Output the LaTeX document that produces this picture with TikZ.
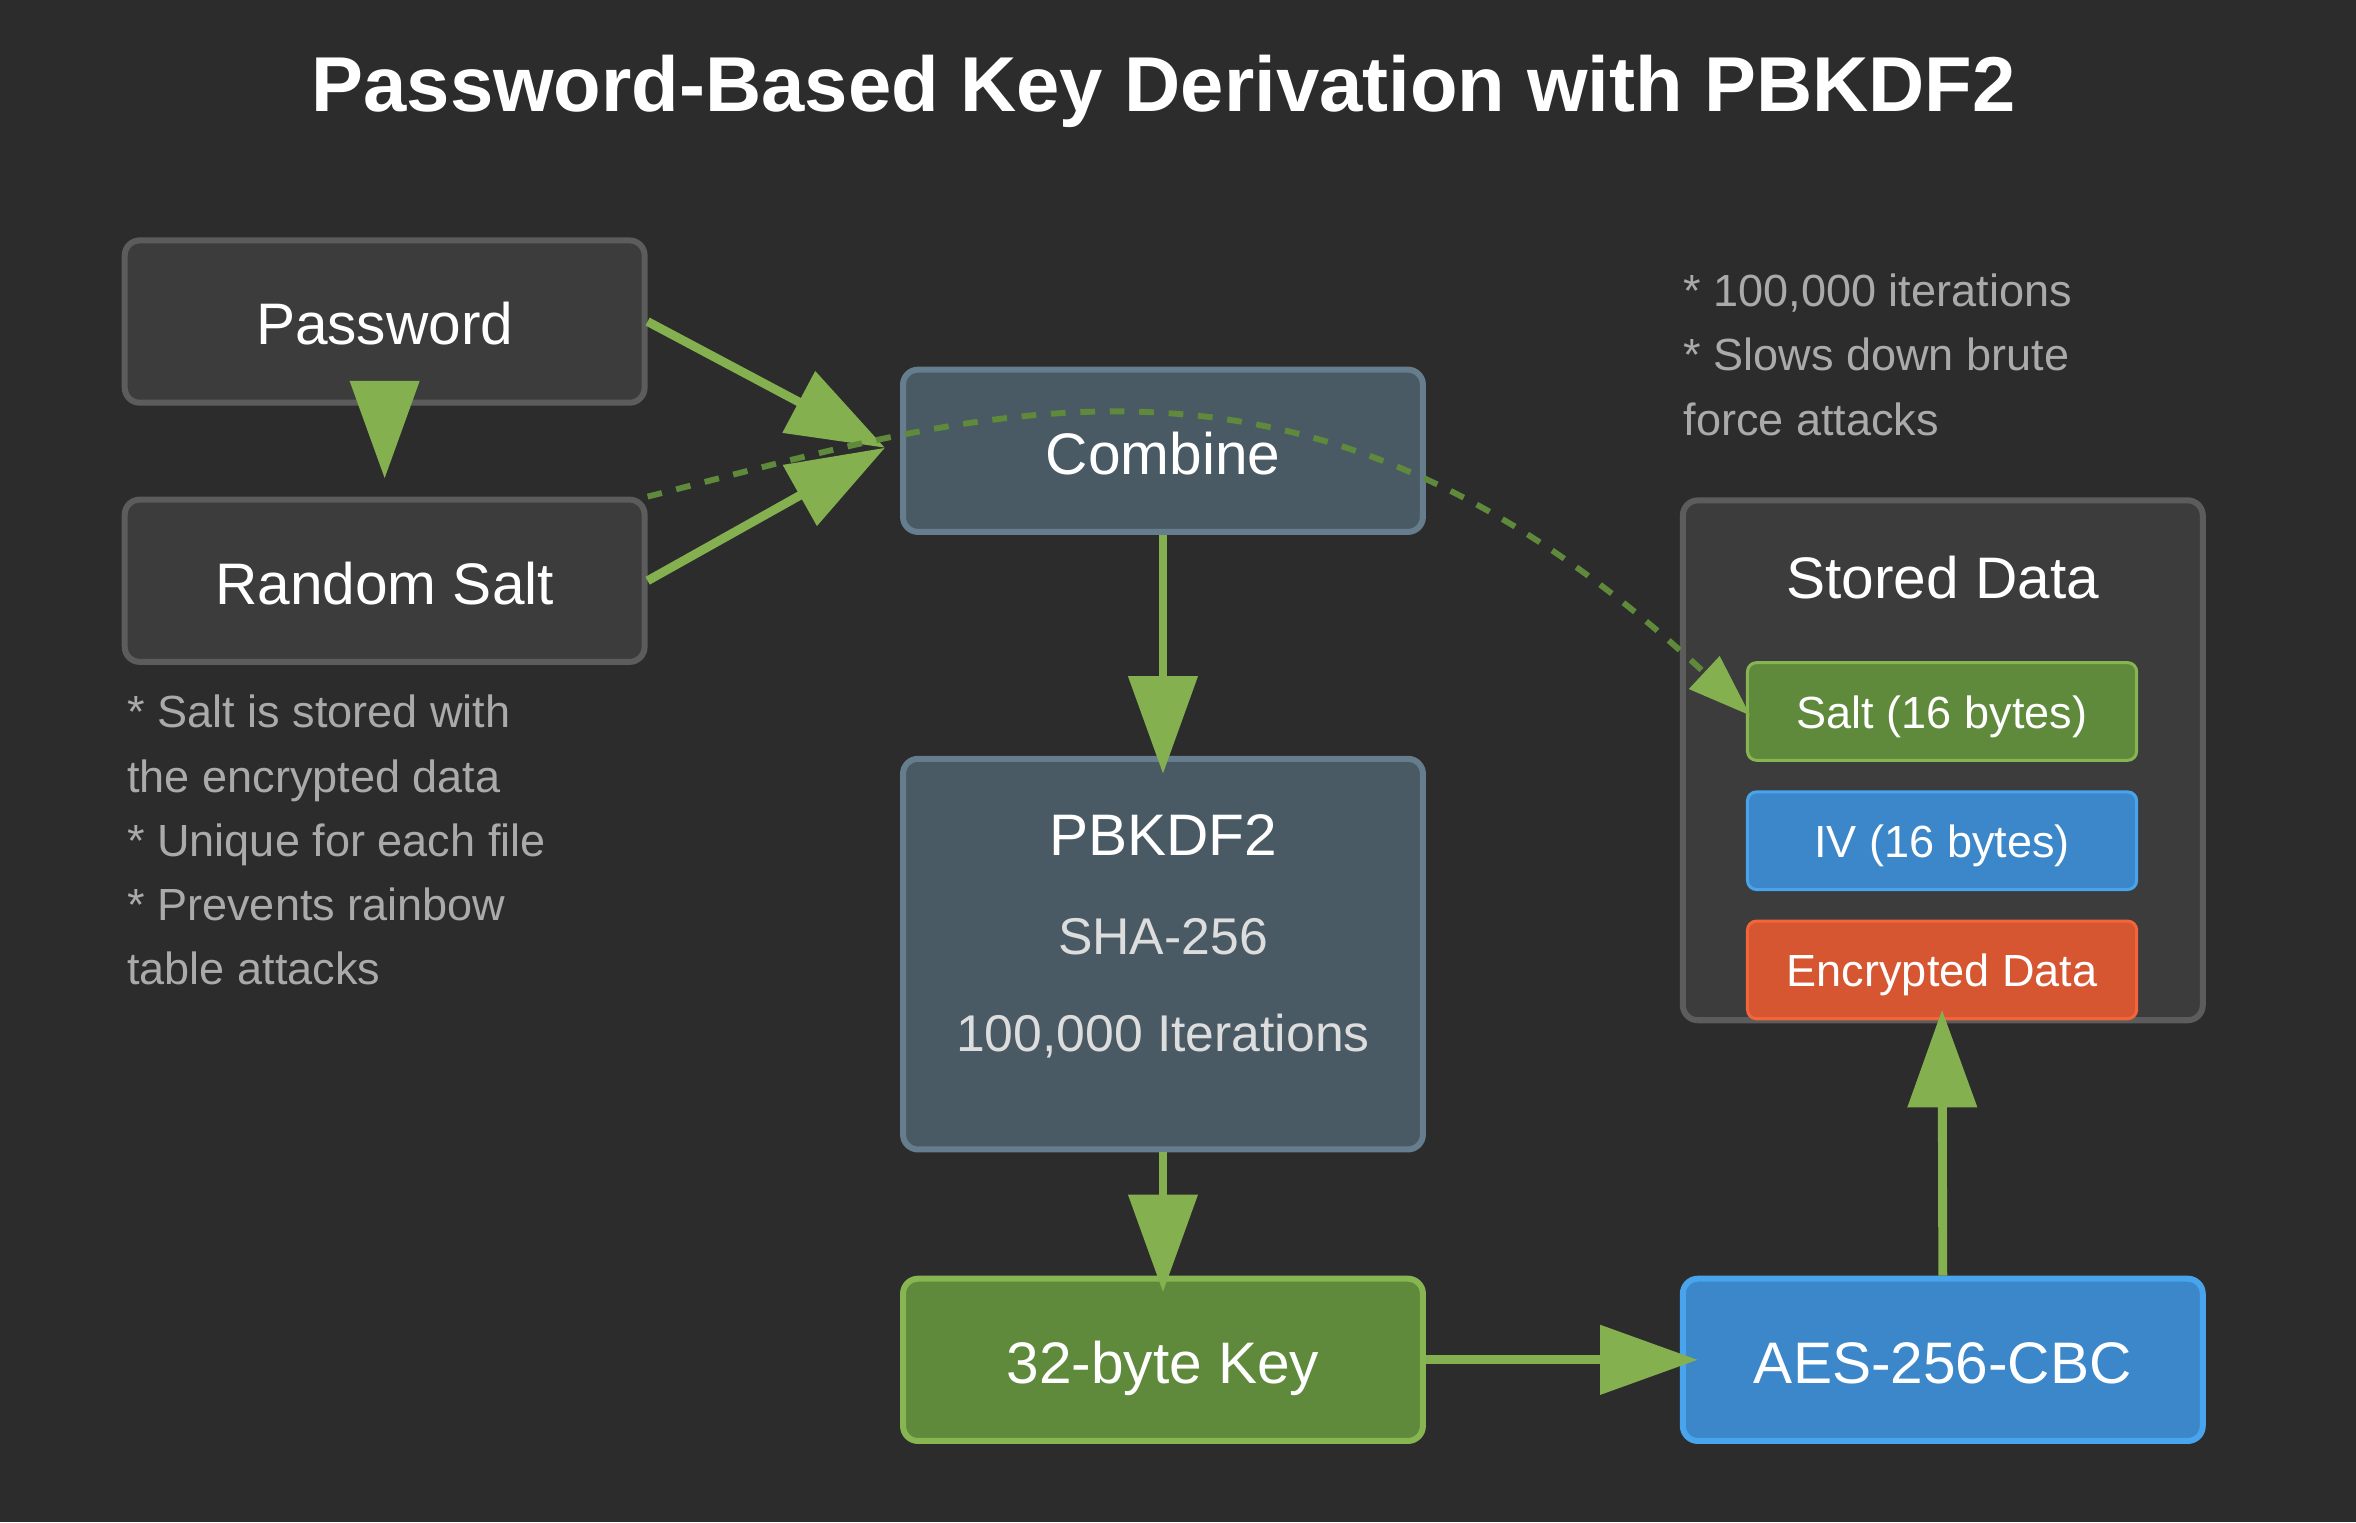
\documentclass[tikz,border=0pt]{standalone}
\usepackage{fontspec}
\setmainfont{Liberation Sans}
\usetikzlibrary{arrows.meta}
\definecolor{bg}{HTML}{2C2C2C}
\definecolor{boxgray}{HTML}{3C3C3C}
\definecolor{bordergray}{HTML}{5C5C5C}
\definecolor{slate}{HTML}{4A5A64}
\definecolor{slateborder}{HTML}{657D8C}
\definecolor{greenfill}{HTML}{5F8A3B}
\definecolor{greenborder}{HTML}{86B552}
\definecolor{arrowgreen}{HTML}{84B050}
\definecolor{dashgreen}{HTML}{5F8A3B}
\definecolor{bluefill}{HTML}{3C87C9}
\definecolor{blueborder}{HTML}{48A4EC}
\definecolor{orangefill}{HTML}{D75632}
\definecolor{orangeborder}{HTML}{F2643A}
\definecolor{notegray}{HTML}{AAAAAA}
\definecolor{subgray}{HTML}{DDDDDD}
\begin{document}
\begin{tikzpicture}[x=0.5pt,y=-0.5pt,
  box/.style={draw, rounded corners=5pt, line width=2pt, minimum width=173pt, minimum height=54pt, inner sep=0pt, text=white, font=\fontsize{19.5pt}{23pt}\selectfont, text height=15.6pt, text depth=0pt},
  graybox/.style={box, fill=boxgray, draw=bordergray},
  slatebox/.style={box, fill=slate, draw=slateborder},
  greenbox/.style={box, fill=greenfill, draw=greenborder},
  bluebox/.style={box, fill=bluefill, draw=blueborder},
  smallbox/.style={draw, rounded corners=3pt, line width=1pt, minimum width=129.5pt, minimum height=32.5pt, inner sep=0pt, text=white, font=\fontsize{15pt}{18pt}\selectfont, text height=11.2pt, text depth=0pt},
  txt/.style={anchor=base, inner sep=0pt, font=\fontsize{19.5pt}{23pt}\selectfont},
  subtxt/.style={anchor=base, inner sep=0pt, text=subgray, font=\fontsize{17.2pt}{20pt}\selectfont},
  note/.style={anchor=base west, inner sep=0pt, text=notegray, font=\fontsize{15pt}{18pt}\selectfont},
  arr/.style={draw=arrowgreen, line width=2.95pt, -{Triangle[length=32.5pt,width=22.5pt]}},
  darr/.style={draw=dashgreen, line width=1.96pt, dash pattern=on 4.9pt off 4.9pt, -{Triangle[length=21pt,width=14.5pt,color=arrowgreen]}}
]
\fill[bg] (0,0) rectangle (1568,1013);
\useasboundingbox (0,0) rectangle (1568,1013);

\node[anchor=base, inner sep=0pt, text=white, font=\fontsize{25.9pt}{30pt}\selectfont\bfseries] (title) at (774.5,74.5) {Password-Based Key Derivation with PBKDF2};

% left column
\node[graybox] (pw) at (256,214) {Password};
\node[graybox] (rs) at (256,386.5) {Random Salt};

% center column
\node[slatebox] (cb) at (774,300) {Combine};
\node[slatebox, minimum height=130pt] (pb) at (774,635) {};
\node[txt, text=white] (pbt) at (774,569.5) {PBKDF2};
\node[subtxt] (pbs) at (774,635) {SHA-256};
\node[subtxt] (pbi) at (774,700) {100,000 Iterations};
\node[greenbox] (key) at (774,905) {32-byte Key};

% right column
\node[bluebox] (aes) at (1293,905) {AES-256-CBC};
\node[graybox, minimum height=173pt] (sd) at (1293,506) {};
\node[txt, text=white] (sdt) at (1293,398.5) {Stored Data};
\node[smallbox, fill=greenfill, draw=greenborder] (salt) at (1292.5,473.5) {Salt (16 bytes)};
\node[smallbox, fill=bluefill, draw=blueborder] (iv) at (1292.5,559.5) {IV (16 bytes)};
\node[smallbox, fill=orangefill, draw=orangeborder] (enc) at (1292.5,645.5) {Encrypted Data};

% notes
\node[note] (n1) at (84.3,484.3) {* Salt is stored with};
\node[note] (n2) at (84.3,527.1) {the encrypted data};
\node[note] (n3) at (84.3,569.9) {* Unique for each file};
\node[note] (n4) at (84.3,612.7) {* Prevents rainbow};
\node[note] (n5) at (84.3,655.5) {table attacks};
\node[note] (m1) at (1120,204) {* 100,000 iterations};
\node[note] (m2) at (1120,246.8) {* Slows down brute};
\node[note] (m3) at (1120,289.6) {force attacks};

% connectors
\coordinate (cin) at (589,298);
\draw[arr, shorten >=6pt] (pw.south) -- (rs.north);
\draw[arr] (pw.east) -- (cin);
\draw[arr] (rs.east) -- (cin);
\draw[arr, shorten >=-6pt] (cb.south) -- (pb.north);
\draw[arr, shorten >=-5.5pt] (pb.south) -- (key.north);
\draw[arr, shorten >=-6pt] (key.east) -- (aes.west);
\draw[arr, shorten >=-3.5pt] (aes.north) -- (enc.south);
\draw[darr, shorten >=-2pt] (rs.north east) .. controls (655,274) and (867,198) .. (salt.west);
\end{tikzpicture}
\end{document}
